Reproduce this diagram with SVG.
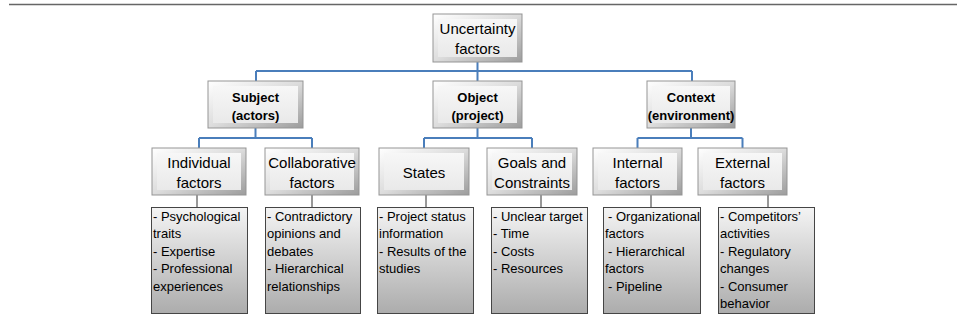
<svg xmlns="http://www.w3.org/2000/svg" width="957" height="320" viewBox="0 0 957 320">
<defs>
<linearGradient id="bev" x1="0" y1="0" x2="1" y2="1">
<stop offset="0" stop-color="#ffffff"/>
<stop offset="0.5" stop-color="#dcdcdc"/>
<stop offset="1" stop-color="#9c9c9c"/>
</linearGradient>
<linearGradient id="face" x1="0" y1="0" x2="0" y2="1">
<stop offset="0" stop-color="#f7f7f7"/>
<stop offset="1" stop-color="#e9e9e9"/>
</linearGradient>
<linearGradient id="desc" x1="0" y1="0" x2="0" y2="1">
<stop offset="0" stop-color="#f4f4f4"/>
<stop offset="1" stop-color="#acacac"/>
</linearGradient>
</defs>
<style>
.out{fill:url(#bev);stroke:#959595;stroke-width:1}
.in{fill:url(#face);stroke:none}
.d{fill:url(#desc);stroke:#454545;stroke-width:1}
.h{font-family:"Liberation Sans",Arial,sans-serif;font-size:15px;fill:#000;text-anchor:middle}
.b{font-family:"Liberation Sans",Arial,sans-serif;font-size:13px;font-weight:bold;fill:#000;text-anchor:middle}
.t{font-family:"Liberation Sans",Arial,sans-serif;font-size:13px;fill:#000}
.blue{stroke:#4a7ebb;stroke-width:2;fill:none}
.thin{stroke:#333;stroke-width:1;fill:none}
</style>
<rect width="957" height="320" fill="#fff"/>
<line x1="9" y1="4.5" x2="957" y2="4.5" stroke="#666" stroke-width="1.6"/>

<g id="connectors">
<path class="blue" d="M477.5 62V71M256 71H692M256 71V81M477.5 71V81M692 71V81"/>
<path class="blue" d="M255.5 128V138M199 138H312M199 138V148M312 138V148"/>
<path class="blue" d="M477.5 128V138M424 138H532M424 138V148M532 138V148"/>
<path class="blue" d="M691 128V138M637.5 138H742.5M637.5 138V148M742.5 138V148"/>
<path class="thin" d="M197 195V207M312 195V207M426 195V207M541 195V207M651 195V207M768 195V207"/>
</g>

<g id="root">
<rect class="out" x="433" y="14" width="89" height="48"/>
<rect class="in" x="438" y="19" width="79" height="38"/>
<text class="h" x="477.5" y="34">Uncertainty</text>
<text class="h" x="477.5" y="54">factors</text>
</g>

<g id="subject">
<rect class="out" x="208" y="81" width="95" height="47"/>
<rect class="in" x="213" y="86" width="85" height="37"/>
<text class="b" x="255.5" y="102">Subject</text>
<text class="b" x="255.5" y="120">(actors)</text>
</g>
<g id="object">
<rect class="out" x="433" y="81" width="89" height="47"/>
<rect class="in" x="438" y="86" width="79" height="37"/>
<text class="b" x="477.5" y="102">Object</text>
<text class="b" x="477.5" y="120">(project)</text>
</g>
<g id="context">
<rect class="out" x="647" y="81" width="88" height="47"/>
<rect class="in" x="652" y="86" width="78" height="37"/>
<text class="b" x="691" y="102">Context</text>
<text class="b" x="691" y="120">(environment)</text>
</g>

<g id="individual">
<rect class="out" x="152" y="148" width="94" height="47"/>
<rect class="in" x="157" y="153" width="84" height="37"/>
<text class="h" x="199" y="168">Individual</text>
<text class="h" x="199" y="188">factors</text>
</g>
<g id="collaborative">
<rect class="out" x="265" y="148" width="94" height="47"/>
<rect class="in" x="270" y="153" width="84" height="37"/>
<text class="h" x="312" y="168">Collaborative</text>
<text class="h" x="312" y="188">factors</text>
</g>
<g id="states">
<rect class="out" x="379" y="148" width="90" height="47"/>
<rect class="in" x="384" y="153" width="80" height="37"/>
<text class="h" x="424" y="178">States</text>
</g>
<g id="goals">
<rect class="out" x="487" y="148" width="90" height="47"/>
<rect class="in" x="492" y="153" width="80" height="37"/>
<text class="h" x="532" y="168">Goals and</text>
<text class="h" x="532" y="188">Constraints</text>
</g>
<g id="internal">
<rect class="out" x="593" y="148" width="89" height="47"/>
<rect class="in" x="598" y="153" width="79" height="37"/>
<text class="h" x="637.5" y="168">Internal</text>
<text class="h" x="637.5" y="188">factors</text>
</g>
<g id="external">
<rect class="out" x="698" y="148" width="89" height="47"/>
<rect class="in" x="703" y="153" width="79" height="37"/>
<text class="h" x="742.5" y="168">External</text>
<text class="h" x="742.5" y="188">factors</text>
</g>

<g id="desc-individual">
<rect class="d" x="151.5" y="207.5" width="96" height="106"/>
<text class="t" x="153" y="221">- Psychological</text>
<text class="t" x="153" y="238.4">traits</text>
<text class="t" x="153" y="255.8">- Expertise</text>
<text class="t" x="153" y="273.2">- Professional</text>
<text class="t" x="153" y="290.6">experiences</text>
</g>
<g id="desc-collaborative">
<rect class="d" x="265.5" y="207.5" width="95" height="106"/>
<text class="t" x="267" y="221">- Contradictory</text>
<text class="t" x="267" y="238.4">opinions and</text>
<text class="t" x="267" y="255.8">debates</text>
<text class="t" x="267" y="273.2">- Hierarchical</text>
<text class="t" x="267" y="290.6">relationships</text>
</g>
<g id="desc-states">
<rect class="d" x="377.5" y="207.5" width="96" height="106"/>
<text class="t" x="379" y="221">- Project status</text>
<text class="t" x="379" y="238.4">information</text>
<text class="t" x="379" y="255.8">- Results of the</text>
<text class="t" x="379" y="273.2">studies</text>
</g>
<g id="desc-goals">
<rect class="d" x="491.5" y="207.5" width="96" height="106"/>
<text class="t" x="493" y="221">- Unclear target</text>
<text class="t" x="493" y="238.4">- Time</text>
<text class="t" x="493" y="255.8">- Costs</text>
<text class="t" x="493" y="273.2">- Resources</text>
</g>
<g id="desc-internal">
<rect class="d" x="603.5" y="207.5" width="97" height="106"/>
<text class="t" x="608" y="221">- Organizational</text>
<text class="t" x="605" y="238.4">factors</text>
<text class="t" x="608" y="255.8">- Hierarchical</text>
<text class="t" x="605" y="273.2">factors</text>
<text class="t" x="608" y="290.6">- Pipeline</text>
</g>
<g id="desc-external">
<rect class="d" x="718.5" y="207.5" width="96" height="106"/>
<text class="t" x="720" y="221">- Competitors’</text>
<text class="t" x="720" y="238.4">activities</text>
<text class="t" x="720" y="255.8">- Regulatory</text>
<text class="t" x="720" y="273.2">changes</text>
<text class="t" x="720" y="290.6">- Consumer</text>
<text class="t" x="720" y="308">behavior</text>
</g>
</svg>
